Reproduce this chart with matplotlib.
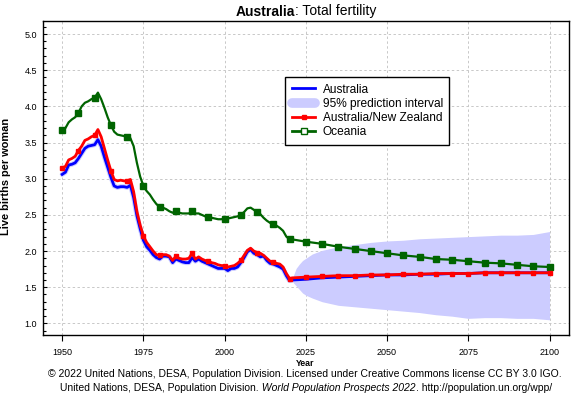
import numpy as np
import matplotlib
matplotlib.use("Agg")
import matplotlib.pyplot as plt
import matplotlib.ticker as ticker
from matplotlib.lines import Line2D

plt.rcParams['font.family'] = ['Liberation Sans', 'DejaVu Sans']

# ------------------------------------------------
# Data
# ------------------------------------------------
years_est = list(range(1950, 2022))
years_proj = list(range(2025, 2101, 5))

australia_est = [
    3.06, 3.09, 3.19, 3.20, 3.22, 3.28, 3.35, 3.42, 3.45, 3.46,
    3.47, 3.54, 3.45, 3.30, 3.16, 3.02, 2.90, 2.88, 2.89, 2.89,
    2.88, 2.91, 2.74, 2.49, 2.31, 2.15, 2.06, 2.01, 1.95, 1.91,
    1.89, 1.93, 1.93, 1.92, 1.84, 1.89, 1.87, 1.85, 1.84, 1.84,
    1.91, 1.86, 1.89, 1.86, 1.84, 1.82, 1.80, 1.78, 1.76, 1.76,
    1.76, 1.73, 1.76, 1.76, 1.78, 1.84, 1.91, 1.99, 2.02, 1.97,
    1.95, 1.92, 1.93, 1.87, 1.83, 1.82, 1.80, 1.78, 1.75, 1.66,
    1.59, 1.60]
australia_proj = [1.61, 1.63, 1.64, 1.65, 1.66, 1.67, 1.67, 1.68,
                  1.68, 1.69, 1.69, 1.70, 1.70, 1.70, 1.70, 1.70]

anz_est = [
    3.15, 3.17, 3.26, 3.28, 3.31, 3.39, 3.45, 3.53, 3.55, 3.58,
    3.60, 3.68, 3.58, 3.42, 3.26, 3.11, 2.99, 2.97, 2.98, 2.97,
    2.97, 2.99, 2.82, 2.55, 2.36, 2.21, 2.12, 2.06, 2.00, 1.95,
    1.94, 1.95, 1.95, 1.93, 1.87, 1.93, 1.90, 1.89, 1.89, 1.90,
    1.97, 1.89, 1.92, 1.89, 1.87, 1.86, 1.84, 1.83, 1.81, 1.80,
    1.80, 1.78, 1.79, 1.80, 1.83, 1.87, 1.94, 2.01, 2.04, 2.00,
    1.98, 1.97, 1.94, 1.90, 1.86, 1.85, 1.83, 1.82, 1.78, 1.69,
    1.62, 1.63]
anz_proj = [1.64, 1.65, 1.66, 1.66, 1.67, 1.67, 1.68, 1.68,
            1.69, 1.69, 1.69, 1.70, 1.70, 1.70, 1.70, 1.70]

oceania_est = [
    3.68, 3.70, 3.78, 3.82, 3.85, 3.91, 4.00, 4.05, 4.07, 4.10,
    4.12, 4.19, 4.10, 3.98, 3.85, 3.74, 3.65, 3.61, 3.60, 3.59,
    3.57, 3.56, 3.45, 3.22, 3.03, 2.90, 2.83, 2.78, 2.71, 2.65,
    2.61, 2.60, 2.58, 2.55, 2.53, 2.56, 2.53, 2.52, 2.52, 2.52,
    2.55, 2.52, 2.52, 2.50, 2.48, 2.47, 2.46, 2.45, 2.44, 2.44,
    2.45, 2.45, 2.46, 2.47, 2.48, 2.50, 2.54, 2.59, 2.60, 2.57,
    2.54, 2.51, 2.46, 2.42, 2.39, 2.37, 2.35, 2.32, 2.28, 2.20,
    2.16, 2.16]
oceania_proj = [2.13, 2.10, 2.06, 2.03, 2.00, 1.97, 1.94, 1.92,
                1.89, 1.88, 1.86, 1.84, 1.83, 1.81, 1.79, 1.78]

pi_years = [2021, 2022, 2023, 2024, 2025, 2027, 2030, 2035, 2040, 2045,
            2050, 2055, 2060, 2065, 2070, 2075, 2080, 2085, 2090, 2095, 2100]
pi_upper = [1.64, 1.76, 1.82, 1.87, 1.90, 1.96, 2.01, 2.06, 2.09, 2.12,
            2.14, 2.15, 2.17, 2.18, 2.19, 2.20, 2.21, 2.22, 2.22, 2.23, 2.27]
pi_lower = [1.57, 1.52, 1.47, 1.42, 1.39, 1.35, 1.30, 1.25, 1.23, 1.21,
            1.19, 1.17, 1.15, 1.12, 1.10, 1.07, 1.08, 1.08, 1.07, 1.07, 1.05]

BLUE = '#0000ff'
RED = '#ff0000'
GREEN = '#006400'
BAND = '#ccccff'

# ------------------------------------------------
# Figure
# ------------------------------------------------
fig = plt.figure(figsize=(5.8, 4), dpi=100)
W, H = 580.0, 400.0
ax = fig.add_axes([43 / W, 65 / H, 526 / W, 314 / H])

yrs_all = np.array(years_est + years_proj)
aus_all = australia_est + australia_proj
anz_all = anz_est + anz_proj
oce_all = oceania_est + oceania_proj
five = [i for i, y in enumerate(yrs_all) if y % 5 == 0]

ax.fill_between(pi_years, pi_lower, pi_upper, color=BAND, lw=0, zorder=1)
ax.plot(years_est, australia_est, color=BAND, lw=3.5, zorder=2,
        solid_capstyle='round')
ax.plot(yrs_all, oce_all, color=GREEN, lw=1.6, marker='s', ms=4.2,
        markevery=five, zorder=3)
ax.plot(yrs_all, aus_all, color=BLUE, lw=2.0, zorder=4)
ax.plot(yrs_all, anz_all, color=RED, lw=2.0, marker='s', ms=3.3,
        markevery=five, zorder=5)

ax.set_xlim(1944.1, 2106.0)
ax.set_ylim(0.84, 5.18)
ax.xaxis.set_major_locator(ticker.MultipleLocator(25))
ax.yaxis.set_major_locator(ticker.MultipleLocator(0.5))
ax.yaxis.set_minor_locator(ticker.MultipleLocator(0.1))
ax.yaxis.set_major_formatter(ticker.FormatStrFormatter('%.1f'))

ax.tick_params(axis='x', which='major', direction='out', length=4, width=0.8,
               pad=5.5, labelsize=6.5)
ax.tick_params(axis='y', which='major', direction='in', length=3, width=0.8,
               pad=4.3, labelsize=6.5)
ax.tick_params(axis='y', which='minor', direction='in', length=2, width=0.8)
ax.grid(True, which='major', color='#c8c8c8', linestyle=(0, (2.5, 2.5)),
        linewidth=0.7, zorder=0)
ax.set_axisbelow(True)
for sp in ax.spines.values():
    sp.set_linewidth(1.0)

# Legend
handles = [
    Line2D([], [], color=BLUE, lw=2.0),
    Line2D([], [], color=BAND, lw=7, solid_capstyle='round'),
    Line2D([], [], color=RED, lw=2.0, marker='s', ms=3),
    Line2D([], [], color=GREEN, lw=2.0, marker='s', ms=4,
           markerfacecolor='white', markeredgecolor=GREEN),
]
labels = ['Australia', '95% prediction interval', 'Australia/New Zealand',
          'Oceania']
leg = ax.legend(handles, labels, loc='upper left',
                bbox_to_anchor=((285 - 43) / 526, (335 - 77) / 314),
                borderaxespad=0, fontsize=8.6, frameon=True, fancybox=False,
                edgecolor='black', framealpha=1, handlelength=2.0,
                handletextpad=0.6, labelspacing=0.18, borderpad=0.55)
leg.get_frame().set_linewidth(1.0)

# Axis labels
fig.text(305 / W, 1 - 365.7 / H, 'Year', fontsize=6.3, fontweight='bold',
         ha='center', va='baseline')
fig.text(6 / W, 1 - 176.5 / H, 'Live births per woman', fontsize=7.9,
         fontweight='bold', rotation=90, ha='center', va='center')

renderer = fig.canvas.get_renderer()


def centered_runs(runs, xc, y_base, size):
    # place several text pieces side by side, centred on xc (pixels)
    texts = []
    widths = []
    for s, weight, style in runs:
        t = fig.text(0, 0, s, fontsize=size, fontweight=weight,
                     fontstyle=style, va='baseline', ha='left')
        widths.append(t.get_window_extent(renderer).width)
        texts.append(t)
    x = xc - sum(widths) / 2
    for t, w in zip(texts, widths):
        t.set_position((x / W, 1 - y_base / H))
        x += w


centered_runs([('Australia', 'bold', 'normal'),
               (': Total fertility', 'normal', 'normal')], 306, 15.5, 10)
centered_runs([('\u00a9 2022 United Nations, DESA, Population Division. '
                'Licensed under Creative Commons license CC BY 3.0 IGO.',
                'normal', 'normal')], 305, 377, 7.5)
centered_runs([('United Nations, DESA, Population Division.', 'normal', 'normal'),
               (' World Population Prospects 2022', 'normal', 'italic'),
               ('. http://population.un.org/wpp/', 'normal', 'normal')],
              306, 391, 7.5)

fig.savefig('out.png', dpi=100)
